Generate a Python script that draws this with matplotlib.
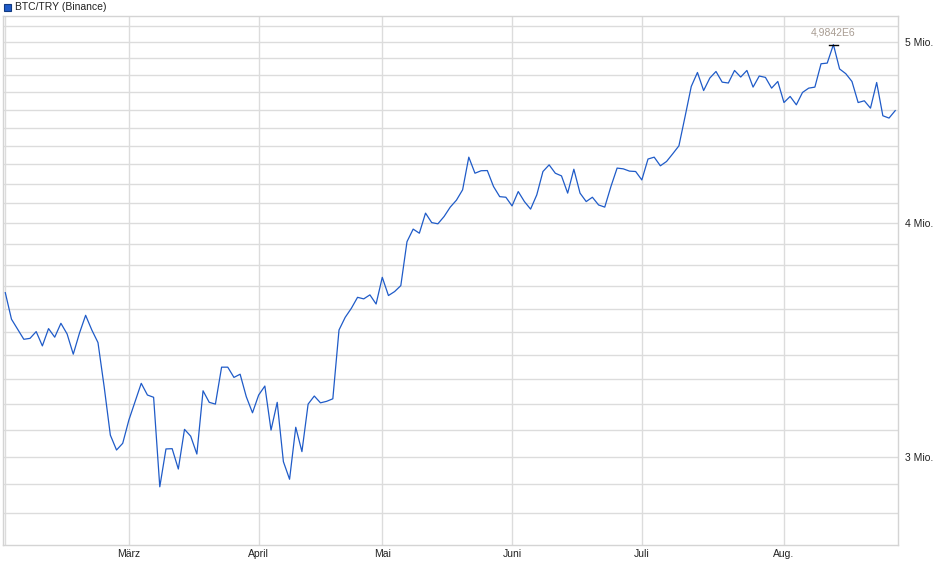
import matplotlib
matplotlib.use("Agg")
from matplotlib import pyplot as plt
import numpy as np

plt.rcParams['font.family'] = ['Liberation Sans', 'DejaVu Sans']

# BTC/TRY daily closes (trading days), in millions
prices = [3.672, 3.554, 3.510, 3.467, 3.471, 3.500, 3.439, 3.513, 3.476, 3.536,
          3.490, 3.404, 3.493, 3.571, 3.507, 3.453, 3.270, 3.081, 3.025, 3.050,
          3.139, 3.211, 3.284, 3.237, 3.228, 2.891, 3.029, 3.030, 2.955, 3.103,
          3.077, 3.010, 3.254, 3.208, 3.201, 3.350, 3.350, 3.308, 3.321, 3.230,
          3.167, 3.237, 3.273, 3.100, 3.208, 2.982, 2.918, 3.111, 3.019, 3.201,
          3.233, 3.206, 3.212, 3.222, 3.507, 3.562, 3.602, 3.651, 3.644, 3.662,
          3.621, 3.742, 3.659, 3.677, 3.704, 3.910, 3.971, 3.951, 4.050, 4.003,
          3.997, 4.033, 4.080, 4.115, 4.168, 4.339, 4.254, 4.267, 4.268, 4.185,
          4.133, 4.130, 4.086, 4.159, 4.108, 4.070, 4.142, 4.263, 4.298, 4.254,
          4.240, 4.151, 4.275, 4.151, 4.108, 4.130, 4.091, 4.080, 4.185, 4.281,
          4.277, 4.265, 4.263, 4.219, 4.329, 4.339, 4.293, 4.316, 4.357, 4.400,
          4.562, 4.734, 4.816, 4.710, 4.783, 4.822, 4.759, 4.754, 4.828, 4.789,
          4.828, 4.730, 4.795, 4.787, 4.724, 4.763, 4.641, 4.676, 4.628, 4.699,
          4.724, 4.730, 4.868, 4.872, 4.9842, 4.837, 4.809, 4.763, 4.641, 4.651,
          4.609, 4.757, 4.566, 4.553, 4.595]

# first trading day of each month (index into prices)
month_idx = [0, 20, 41, 61, 82, 103, 126]
month_labels = ['', 'März', 'April', 'Mai', 'Juni', 'Juli', 'Aug.']

grid_levels = [2.8, 2.9, 3.0, 3.1, 3.2, 3.3, 3.4, 3.5, 3.6, 3.7, 3.8, 3.9,
               4.0, 4.1, 4.2, 4.3, 4.4, 4.5, 4.6, 4.7, 4.8, 4.9, 5.0, 5.1]
label_levels = {3.0: '3 Mio.', 4.0: '4 Mio.', 5.0: '5 Mio.'}

peak_label = '4,9842E6'

W, H = 940, 579
fig = plt.figure(figsize=(W / 100, H / 100), dpi=100)
ax = fig.add_axes([3 / W, (H - 545.3) / H, (898.3 - 3) / W, (545.3 - 16) / H])

x = np.arange(len(prices))
y = np.array(prices) * 1e6
ax.plot(x, y, color='#1f5bc8', lw=0.9, zorder=3)

ax.set_yscale('log')
ax.set_xlim(-0.37, 144.5)
ax.set_ylim(2.690e6, 5.163e6)

ax.yaxis.tick_right()
ax.set_yticks([v * 1e6 for v in grid_levels])
ax.set_yticklabels([label_levels.get(v, '') for v in grid_levels])
ax.yaxis.set_minor_locator(matplotlib.ticker.NullLocator())
ax.set_xticks(month_idx)
ax.set_xticklabels(month_labels)
ax.tick_params(axis='both', length=0, labelsize=7.5, colors='#222222')
ax.tick_params(axis='y', pad=5)
ax.tick_params(axis='x', pad=3)

ax.grid(True, color='#dcdcdc', lw=1.0, zorder=0)
for s in ax.spines.values():
    s.set_color('#d4d4d4')
    s.set_linewidth(1.0)

# peak marker
pk = int(np.argmax(y))
ax.plot([pk - 0.7, pk + 0.7], [y[pk], y[pk]], color='black', lw=1.0, zorder=4)
ax.annotate(peak_label, (pk, y[pk]), xytext=(0, 5), textcoords='offset points',
            ha='center', va='bottom', fontsize=7.5, color='#a89c92')

# legend square + title
fig.patches.append(plt.Rectangle((4 / W, (H - 11) / H), 7 / W, 7 / H,
                                 transform=fig.transFigure, facecolor='#1f5bc8',
                                 edgecolor='#123a80', lw=0.8))
fig.text(15 / W, (H - 7) / H, 'BTC/TRY (Binance)', fontsize=7.5,
         color='#222222', va='center', ha='left')

fig.savefig('out.png', dpi=100)
